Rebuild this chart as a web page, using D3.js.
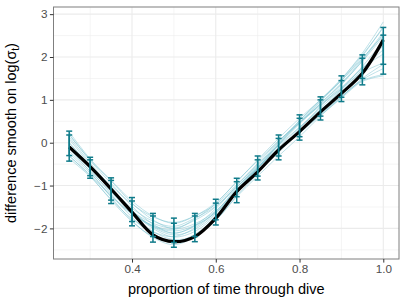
<!DOCTYPE html>
<html><head><meta charset="utf-8">
<script src="https://cdn.jsdelivr.net/npm/d3@7"></script>
<style>body{margin:0;background:#fff}svg{display:block}text{font-family:"Liberation Sans",Arial,Helvetica,sans-serif}</style>
</head><body><svg id="c" width="407" height="305"></svg>
<script>
// proportion of time through dive
const xs = [0.25,0.30,0.35,0.40,0.45,0.50,0.55,0.60,0.65,0.70,0.75,0.80,0.85,0.90,0.95,1.00];
// mean difference smooth (black line)
const meanSmooth = [-0.10,-0.56,-1.08,-1.62,-2.15,-2.31,-2.19,-1.76,-1.14,-0.68,-0.17,0.26,0.72,1.15,1.62,2.40];
// error bars: outer and inner intervals
const outerHi = [0.27,-0.34,-0.82,-1.28,-1.65,-1.76,-1.65,-1.32,-0.83,-0.31,0.18,0.65,1.07,1.56,2.05,2.69];
const outerLo = [-0.43,-0.83,-1.42,-1.94,-2.32,-2.44,-2.31,-1.92,-1.40,-0.87,-0.40,0.06,0.53,0.96,1.35,1.60];
const innerHi = [0.18,-0.40,-0.88,-1.36,-1.71,-1.88,-1.71,-1.41,-0.91,-0.40,0.10,0.57,1.00,1.45,1.97,2.51];
const innerLo = [-0.30,-0.77,-1.34,-1.84,-2.19,-2.33,-2.19,-1.80,-1.26,-0.78,-0.31,0.14,0.62,1.06,1.50,1.83];
// posterior draws (light lines)
const drawA = [0.18,-0.40,-0.88,-1.36,-1.71,-1.88,-1.71,-1.40,-0.91,-0.40,0.10,0.57,1.00,1.45,1.97,2.51];
const drawB = [-0.30,-0.77,-1.34,-1.84,-2.19,-2.33,-2.19,-1.81,-1.26,-0.78,-0.31,0.14,0.62,1.06,1.50,1.83];
const drawC = [-0.06,-0.59,-1.11,-1.60,-1.95,-2.11,-1.95,-1.61,-1.09,-0.59,-0.11,0.36,0.81,1.26,1.74,2.17];
const drawD = [0.25,-0.38,-0.89,-1.41,-1.80,-2.01,-1.89,-1.59,-1.10,-0.64,-0.19,0.22,0.66,1.07,1.47,1.73];
const drawE = [-0.37,-0.79,-1.32,-1.78,-2.08,-2.19,-1.99,-1.61,-1.05,-0.52,0.01,0.52,0.99,1.48,2.05,2.68];
const drawF = [-0.01,-0.53,-1.00,-1.43,-1.73,-1.86,-1.71,-1.44,-0.98,-0.51,-0.06,0.36,0.77,1.20,1.71,2.27];
const drawG = [-0.13,-0.68,-1.27,-1.82,-2.21,-2.38,-2.19,-1.75,-1.16,-0.61,-0.06,0.44,0.91,1.37,1.90,2.48];
const drawH = [0.08,-0.51,-1.06,-1.60,-2.00,-2.20,-2.07,-1.69,-1.12,-0.59,-0.04,0.48,0.96,1.45,2.02,2.71];
const drawI = [-0.20,-0.66,-1.16,-1.60,-1.88,-1.99,-1.81,-1.50,-1.03,-0.57,-0.15,0.25,0.68,1.08,1.45,1.59];
const drawJ = [0.20,-0.42,-0.95,-1.48,-1.90,-2.11,-1.93,-1.54,-1.00,-0.48,0.04,0.48,0.89,1.29,1.74,2.07];
const drawK = [-0.32,-0.75,-1.25,-1.67,-1.95,-2.06,-1.93,-1.63,-1.14,-0.69,-0.23,0.25,0.75,1.24,1.78,2.37];
const drawL = [0.01,-0.57,-1.13,-1.67,-2.07,-2.26,-2.17,-1.81,-1.24,-0.72,-0.19,0.33,0.85,1.35,1.92,2.54];
const drawM = [-0.25,-0.71,-1.23,-1.65,-1.93,-2.02,-1.78,-1.42,-0.91,-0.42,0.04,0.46,0.87,1.26,1.64,1.86];
const drawN = [0.13,-0.47,-1.04,-1.58,-1.97,-2.15,-2.02,-1.65,-1.09,-0.55,-0.02,0.51,1.00,1.49,2.09,2.82];
const drawO = [-0.08,-0.57,-1.06,-1.53,-1.83,-1.95,-1.76,-1.48,-1.03,-0.59,-0.17,0.23,0.64,1.04,1.43,1.56];
const drawP = [-0.06,-0.62,-1.20,-1.74,-2.14,-2.31,-2.14,-1.73,-1.14,-0.59,-0.04,0.46,0.92,1.39,1.95,2.58];
const draws = [drawA,drawB,drawC,drawD,drawE,drawF,drawG,drawH,drawI,drawJ,drawK,drawL,drawM,drawN,drawO,drawP];
const xTicks = [0.4,0.6,0.8,1.0];
const xMinor = [0.3,0.5,0.7,0.9];
const yTicks = [-2,-1,0,1,2,3];
const yMinor = [-2.5,-1.5,-0.5,0.5,1.5,2.5];

const svg = d3.select("#c");
const L = 53.5, R = 399, T = 7, B = 259;
const x = d3.scaleLinear().domain([0.2125, 1.0375]).range([L, R]);
const y = d3.scaleLinear().domain([-2.714, 3.167]).range([B, T]);

const grid = svg.append("g");
grid.selectAll(".mx").data(xMinor).join("line").attr("x1",d=>x(d)).attr("x2",d=>x(d)).attr("y1",T).attr("y2",B).attr("stroke","#ebebeb").attr("stroke-width",0.55);
grid.selectAll(".my").data(yMinor).join("line").attr("y1",d=>y(d)).attr("y2",d=>y(d)).attr("x1",L).attr("x2",R).attr("stroke","#ebebeb").attr("stroke-width",0.55);
grid.selectAll(".Mx").data(xTicks).join("line").attr("x1",d=>x(d)).attr("x2",d=>x(d)).attr("y1",T).attr("y2",B).attr("stroke","#ebebeb").attr("stroke-width",1.1);
grid.selectAll(".My").data(yTicks).join("line").attr("y1",d=>y(d)).attr("y2",d=>y(d)).attr("x1",L).attr("x2",R).attr("stroke","#ebebeb").attr("stroke-width",1.1);

const line = d3.line().x((d,i)=>x(xs[i])).y(d=>y(d)).curve(d3.curveCatmullRom.alpha(0.5));
svg.append("g").selectAll("path").data(draws).join("path")
  .attr("d", line).attr("fill","none").attr("stroke","#6ebdcb").attr("stroke-opacity",0.5).attr("stroke-width",0.9);

svg.append("path").attr("d", line(meanSmooth)).attr("fill","none").attr("stroke","#000").attr("stroke-width",3.2).attr("stroke-linejoin","round");

const eb = svg.append("g").attr("stroke","#0f7b8a").attr("stroke-width",1.5).attr("fill","none");
function bars(lo, hi){
  const g = eb.append("g");
  xs.forEach((xv,i)=>{
    const cx = x(xv);
    g.append("line").attr("x1",cx).attr("x2",cx).attr("y1",y(lo[i])).attr("y2",y(hi[i]));
    g.append("line").attr("x1",cx-3).attr("x2",cx+3).attr("y1",y(lo[i])).attr("y2",y(lo[i]));
    g.append("line").attr("x1",cx-3).attr("x2",cx+3).attr("y1",y(hi[i])).attr("y2",y(hi[i]));
  });
}
bars(outerLo, outerHi);
bars(innerLo, innerHi);

svg.append("rect").attr("x",L).attr("y",T).attr("width",R-L).attr("height",B-T).attr("fill","none").attr("stroke","#7f7f7f").attr("stroke-width",1);

const xAxis = d3.axisBottom(x).tickValues(xTicks).tickFormat(d3.format(".1f")).tickSize(3.6).tickPadding(2);
const gx = svg.append("g").attr("transform",`translate(0,${B})`).call(xAxis);
const yAxis = d3.axisLeft(y).tickValues(yTicks).tickFormat(d3.format("d")).tickSize(3.6).tickPadding(2.5);
const gy = svg.append("g").attr("transform",`translate(${L},0)`).call(yAxis);
[gx,gy].forEach(g=>{
  g.select(".domain").remove();
  g.selectAll(".tick line").attr("stroke","#333333").attr("stroke-width",1);
  g.selectAll(".tick text").attr("fill","#4d4d4d").attr("font-size","11.7px").attr("font-family","'Liberation Sans',Arial,sans-serif");
});
gy.selectAll(".tick text").text(d=>d<0?"\u2212"+Math.abs(d):d);

svg.append("text").attr("x",(L+R)/2).attr("y",293.5).attr("text-anchor","middle").attr("font-size","14.5px").attr("fill","#000").text("proportion of time through dive");
const yt = svg.append("text").attr("transform",`translate(15.5,${(T+B)/2}) rotate(-90)`).attr("text-anchor","middle").attr("font-size","14.5px").attr("fill","#000");
yt.append("tspan").text("difference smooth on log(\u03C3");
yt.append("tspan").attr("font-size","10px").attr("dy","3").text("t");
yt.append("tspan").attr("dy","-3").text(")");
</script></body></html>
